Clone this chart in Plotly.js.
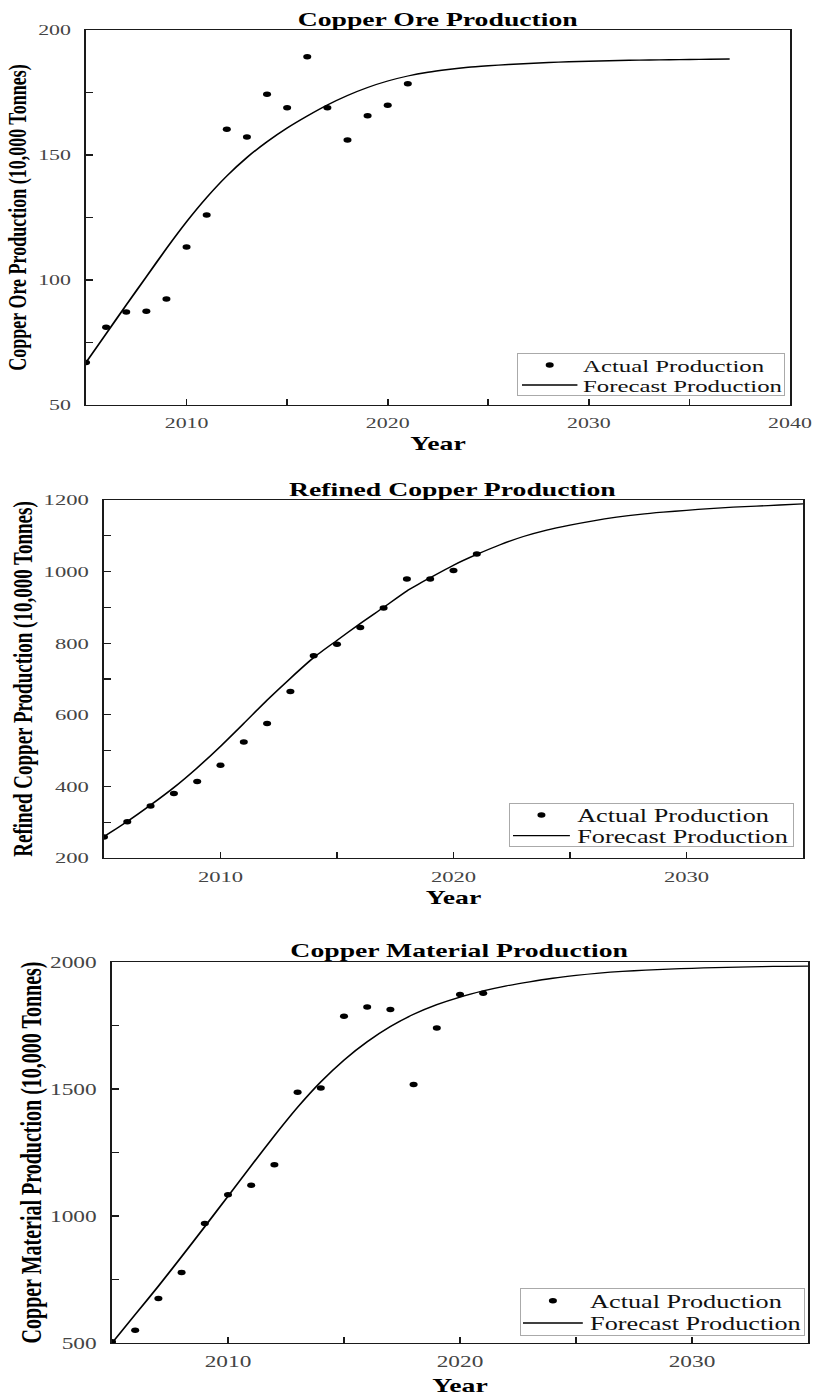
<!DOCTYPE html>
<html><head><meta charset="utf-8">
<script src="https://cdn.plot.ly/plotly-3.0.1.min.js"></script>
<style>
html,body{margin:0;padding:0;background:#fff;overflow:hidden;}
#wrap{width:814px;height:1396px;overflow:hidden;}
#chart{width:558px;height:1396px;transform:scaleX(1.458781);transform-origin:0 0;}
</style></head><body><div id="wrap"><div id="chart"></div></div>
<script>
// ---- data ----
const actualYears = [2005,2006,2007,2008,2009,2010,2011,2012,2013,2014,2015,2016,2017,2018,2019,2020,2021];

const oreActual = [67,81.1,87.2,87.5,92.4,113.2,126,160.3,157.2,174.3,168.9,189.3,168.9,156,165.7,169.9,178.5];
const oreForecastYears = [2005,2006,2007,2008,2009,2010,2011,2012,2013,2014,2015,2016,2017,2018,2019,2020,2021,2022,2023,2024,2025,2026,2027,2028,2029,2030,2031,2032,2033,2034,2035,2036,2037];
const oreForecast = [67,78.5,90,101.3,112.6,123.3,133,141.6,149,155.3,160.8,165.6,170,173.8,177,179.6,181.6,183.1,184.2,185.1,185.7,186.2,186.6,187,187.3,187.5,187.7,187.9,188,188.1,188.2,188.3,188.4];

const refinedActual = [259,301,345,380,414,459,524,576,665,765,797,844,898,979,979,1003,1049];
const refinedForecastYears = [2005,2006,2007,2008,2009,2010,2011,2012,2013,2014,2015,2016,2017,2018,2019,2020,2021,2022,2023,2024,2025,2026,2027,2028,2029,2030,2031,2032,2033,2034,2035];
const refinedForecast = [260,302,348,397,452,512,576,641,702,760,808,855,900,946,983,1018,1048,1075,1098,1116,1130,1142,1152,1160,1166,1171,1176,1180,1183,1186,1189];

const materialActual = [505,550,675,778,970,1084,1121,1202,1487,1504,1786,1823,1813,1518,1740,1872,1877];
const materialForecastYears = refinedForecastYears;
const materialForecast = [500,612,724,840,958,1078,1198,1316,1428,1528,1614,1686,1746,1794,1832,1862,1886,1906,1922,1936,1947,1956,1963,1968,1972,1975,1978,1980,1982,1983,1984];

const panelTitles = ['Copper Ore Production','Refined Copper Production','Copper Material Production'];
const yTitles = ['Copper Ore Production (10,000 Tonnes)','Refined Copper Production (10,000 Tonnes)','Copper Material Production (10,000 Tonnes)'];
const xTitle = 'Year';
const actualName = 'Actual Production';
const forecastName = 'Forecast Production';

// ---- styling ----
const FONT = '"Liberation Serif", "Times New Roman", serif';
const INK = '#1a1a1a';
const TICKC = '#444';
const S = 814 / 558;   // horizontal stretch of the reference

function mk(x, y, xa, ya, leg) {
  return [
    {type:'scatter', mode:'markers', x:x, y:y.actual, xaxis:xa, yaxis:ya, legend:leg,
     name:actualName, marker:{color:'#000', size:5.5}},
    {type:'scatter', mode:'lines', x:y.fx, y:y.forecast, xaxis:xa, yaxis:ya, legend:leg,
     name:forecastName, line:{color:'#000', width:1.3, shape:'spline', smoothing:0.6}}
  ];
}

const data = [
  ...mk(actualYears, {actual:oreActual, fx:oreForecastYears, forecast:oreForecast}, 'x', 'y', 'legend'),
  ...mk(actualYears, {actual:refinedActual, fx:refinedForecastYears, forecast:refinedForecast}, 'x2', 'y2', 'legend2'),
  ...mk(actualYears, {actual:materialActual, fx:materialForecastYears, forecast:materialForecast}, 'x3', 'y3', 'legend3'),
];

const W = 814, H = 1396;
const fx = p => p / W;
const fy = p => 1 - p / H;

function xax(dom, range, anchor, tfs, standoff) {
  return {domain:[fx(dom[0]), fx(dom[1])], range:range, anchor:anchor,
    tick0:2010, dtick:10, ticks:'inside', ticklen:6, tickwidth:1.1, tickcolor:INK,
    minor:{dtick:5, tick0:2005, ticks:'inside', ticklen:6, tickwidth:1.1, tickcolor:INK},
    showline:true, linecolor:INK, linewidth:1.3, mirror:true,
    showgrid:false, zeroline:false, ticklabelstandoff:4,
    tickfont:{family:FONT, size:tfs, color:TICKC},
    title:{text:xTitle, font:{family:FONT, size:19, color:'#000', weight:'bold'}, standoff:standoff}};
}
function yax(dom, range, dtick, minor, anchor, tfs, tsize, standoff) {
  return {domain:[fy(dom[1]), fy(dom[0])], range:range, anchor:anchor,
    dtick:dtick, ticks:'inside', ticklen:5, tickwidth:1.1, tickcolor:INK,
    minor:{dtick:minor, ticks:'inside', ticklen:5, tickwidth:1.1, tickcolor:INK},
    showline:true, linecolor:INK, linewidth:1.3, mirror:true,
    showgrid:false, zeroline:false, ticklabelstandoff:6,
    tickfont:{family:FONT, size:tfs, color:TICKC},
    title:{font:{family:FONT, size:tsize, color:'#000', weight:'bold'}, standoff:standoff}};
}

const layout = {
  width:558, height:1396, margin:{l:0,r:0,t:0,b:0},
  paper_bgcolor:'#fff', plot_bgcolor:'#fff', showlegend:true,
  font:{family:FONT, color:'#000'},
  xaxis:  xax([86,790], [2005,2040], 'y', 15, 6),
  yaxis:  yax([30,405], [50,200], 50, 25, 'x', 15, 18, 3),
  xaxis2: xax([104,803], [2005,2035], 'y2', 15.5, 6),
  yaxis2: yax([500,858], [200,1200], 200, 100, 'x2', 15.5, 19, 2),
  xaxis3: xax([112,808], [2005,2035], 'y3', 16, 11),
  yaxis3: yax([962,1343], [500,2000], 500, 250, 'x3', 16, 20, 0),
  annotations: [
    {text:panelTitles[0], x:fx(438), y:fy(19)},
    {text:panelTitles[1], x:fx(453.5), y:fy(489)},
    {text:panelTitles[2], x:fx(460), y:fy(950)},
  ].map(a => Object.assign(a, {xref:'paper', yref:'paper', xanchor:'center', yanchor:'middle', showarrow:false,
      font:{family:FONT, size:19, color:'#000', weight:'bold'}})),
};
layout.yaxis.title.text = yTitles[0];
layout.yaxis2.title.text = yTitles[1];
layout.yaxis3.title.text = yTitles[2];

function leg(xr, yb, fs, iw) {
  return {x:fx(xr), y:fy(yb), xanchor:'right', yanchor:'bottom', bgcolor:'#fff',
    bordercolor:'#aaa', borderwidth:1, font:{family:FONT, size:fs, color:'#111'},
    itemwidth:iw, tracegroupgap:0};
}
layout.legend = leg(785, 396, 17, 38);
layout.legend2 = leg(794, 847, 18, 39);
layout.legend3 = leg(805, 1336, 18, 41);

// legend box geometry of the reference (page px): box, row centres, symbol start, text start
const legendBoxes = {
  legend:  {left:517, right:785, top:352.5, bottom:396, rows:[365, 385],   lineX:522, textX:583},
  legend2: {left:509, right:794, top:802.5, bottom:847, rows:[815, 835.7], lineX:513, textX:578},
  legend3: {left:520, right:805, top:1288,  bottom:1336, rows:[1300.7, 1323], lineX:523, textX:590},
};

const gd = document.getElementById('chart');
Plotly.newPlot(gd, data, layout, {staticPlot:true, displayModeBar:false}).then(() => {
  const wrapLeft = gd.getBoundingClientRect().left;
  for (const [cls, t] of Object.entries(legendBoxes)) {
    const g = gd.querySelector('g.' + cls);
    if (!g) continue;
    const w = (t.right - t.left) / S, h = t.bottom - t.top;
    g.setAttribute('transform', `translate(${t.left / S},${t.top})`);
    const bg = g.querySelector('rect.bg');
    if (bg) { bg.setAttribute('x', 0.5); bg.setAttribute('y', 0.5); bg.setAttribute('width', w - 1); bg.setAttribute('height', h - 1); }
    const sb = g.querySelector('g.scrollbox');
    if (sb) { sb.removeAttribute('clip-path'); sb.setAttribute('transform', 'translate(0,0)'); }
    const traces = g.querySelectorAll('g.traces');
    let dxSym = 0;
    const lp = g.querySelector('g.legendlines path');
    const startX = [];
    traces.forEach(tr => {
      const m = /translate\(([-\d.e]+)[ ,]+([-\d.e]+)\)/.exec(tr.getAttribute('transform') || '');
      startX.push(m ? parseFloat(m[1]) : 0);
    });
    traces.forEach((tr, i) => tr.setAttribute('transform', `translate(${startX[i]},${t.rows[i] - t.top})`));
    if (lp) dxSym = (t.lineX - (lp.getBoundingClientRect().left - wrapLeft)) / S;
    traces.forEach((tr, i) => tr.setAttribute('transform', `translate(${startX[i] + dxSym},${t.rows[i] - t.top})`));
    traces.forEach(tr => {
      const txt = tr.querySelector('text.legendtext');
      if (!txt) return;
      const d = (t.textX - (txt.getBoundingClientRect().left - wrapLeft)) / S;
      txt.setAttribute('x', parseFloat(txt.getAttribute('x') || 0) + d);
    });
  }
});
</script>
</body></html>
